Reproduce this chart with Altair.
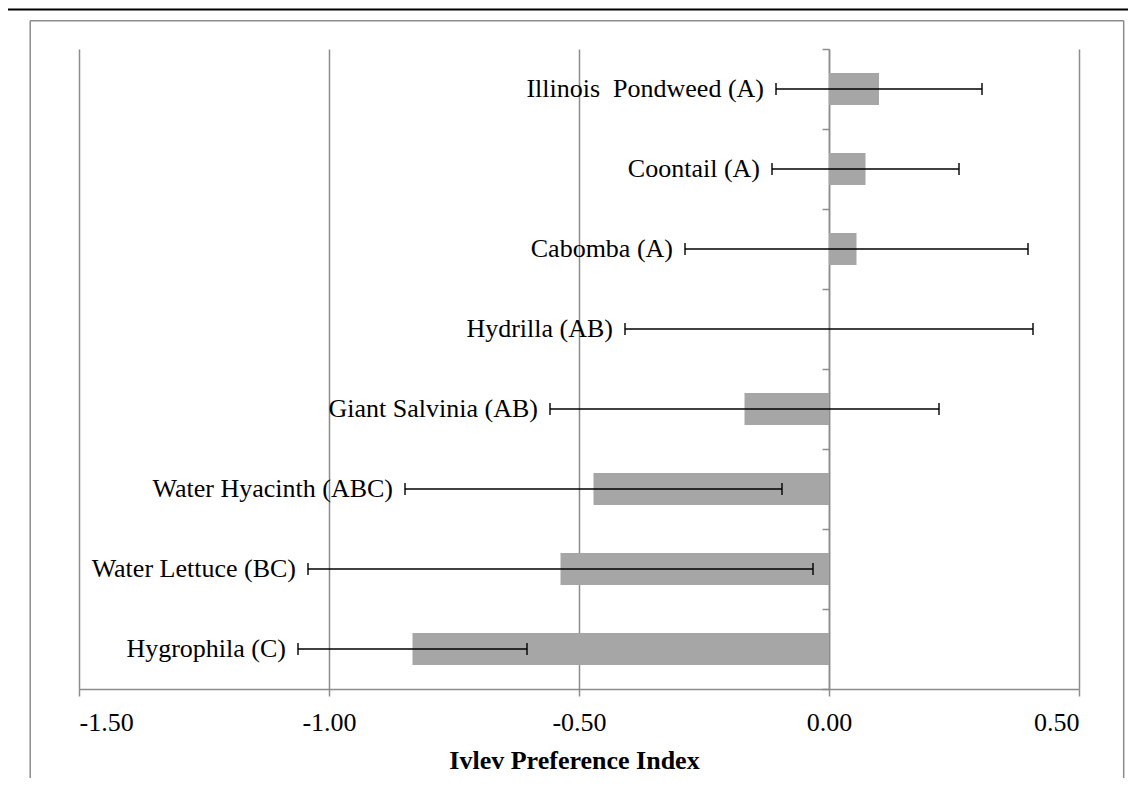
import altair as alt
import pandas as pd

# ---- data ----
species = [
    "Illinois\u00a0 Pondweed (A)",
    "Coontail (A)",
    "Cabomba (A)",
    "Hydrilla (AB)",
    "Giant Salvinia (AB)",
    "Water Hyacinth (ABC)",
    "Water Lettuce (BC)",
    "Hygrophila (C)",
]
ivlev = [0.100, 0.073, 0.055, 0.000, -0.169, -0.471, -0.537, -0.833]
err = [0.206, 0.187, 0.343, 0.408, 0.389, 0.377, 0.505, 0.229]
x_ticks = [-1.5, -1.0, -0.5, 0.0, 0.5]

df = pd.DataFrame({"species": species, "ivlev": ivlev, "err": err})
df["lo"] = df["ivlev"] - df["err"]
df["hi"] = df["ivlev"] + df["err"]

W, H = 1000, 640
PAD_L, PAD_T, SVG_W, SVG_H = 71, 41, 1120, 770
FONT = "Liberation Serif"
GREY = "#8c8c8c"

xscale = alt.Scale(domain=[x_ticks[0], x_ticks[-1]], nice=False, zero=False)
yscale = alt.Scale(paddingInner=0, paddingOuter=0)

x_axis = alt.Axis(
    values=x_ticks, format=".2f", labelExpr="replace(datum.label, '\u2212', '-')",
    title="Ivlev Preference Index",
    grid=True, gridColor=GREY, gridWidth=1.5,
    domainColor=GREY, domainWidth=1.5, tickColor=GREY, tickWidth=1.5, tickSize=7,
    labelFont=FONT, labelFontSize=26, labelColor="black", labelPadding=34,
    labelBaseline="alphabetic",
    titleFont=FONT, titleFontSize=26, titleFontWeight="bold", titleColor="black",
    titleBaseline="alphabetic", titleY=79, titleX=495, titleAlign="center",
)
zero_offset = -W * (0 - x_ticks[0]) / (x_ticks[-1] - x_ticks[0])
y_axis = alt.Axis(
    title=None, labels=False, grid=False, offset=zero_offset, tickBand="extent",
    tickSize=7, tickColor=GREY, tickWidth=1.5, domainColor=GREY, domainWidth=1.5,
)

def X(field):
    return alt.X(field, scale=xscale, axis=x_axis)

base = alt.Chart(df).encode(
    y=alt.Y("species:N", sort=species, scale=yscale, axis=y_axis)
)

bars = base.mark_bar(color="#a6a6a6", height={"band": 0.4}).encode(
    x=X("ivlev:Q"), x2=alt.datum(0))
whisk = base.mark_rule(color="black", strokeWidth=1.5).encode(x=X("lo:Q"), x2="hi:Q")
cap_lo = base.mark_tick(color="black", thickness=2, size=12, orient="vertical").encode(x=X("lo:Q"))
cap_hi = base.mark_tick(color="black", thickness=2, size=12, orient="vertical").encode(x=X("hi:Q"))
labels = base.mark_text(
    align="right", baseline="middle", dx=-12, font=FONT, fontSize=26, color="black"
).encode(x=X("lo:Q"), text="species:N")

# decorative page frames (outer black, inner grey)
one = pd.DataFrame({"k": [0]})
bottom = SVG_H - PAD_T
right = SVG_W - PAD_L
frame_black_left = alt.Chart(one).mark_rule(color="black", strokeWidth=2).encode(
    x=alt.value(-73.7), y=alt.value(-39.5), y2=alt.value(bottom))
frame_black_top = alt.Chart(one).mark_rule(color="black", strokeWidth=2).encode(
    x=alt.value(-73.7), x2=alt.value(right), y=alt.value(-39.5))
frame_grey_left = alt.Chart(one).mark_rule(color=GREY, strokeWidth=1.5).encode(
    x=alt.value(-48.8), y=alt.value(-28.2), y2=alt.value(bottom))
frame_grey_right = alt.Chart(one).mark_rule(color=GREY, strokeWidth=1.5).encode(
    x=alt.value(1044.7), y=alt.value(-28.2), y2=alt.value(bottom))
frame_grey_top = alt.Chart(one).mark_rule(color=GREY, strokeWidth=1.5).encode(
    x=alt.value(-48.8), x2=alt.value(1044.7), y=alt.value(-28.2))

chart = alt.layer(
    bars, whisk, cap_lo, cap_hi, labels,
    frame_black_left, frame_black_top, frame_grey_left, frame_grey_right, frame_grey_top,
).properties(
    width=W, height=H,
    padding={"left": PAD_L, "top": PAD_T, "right": SVG_W - PAD_L - W, "bottom": SVG_H - PAD_T - H},
    autosize=alt.AutoSizeParams(type="none"),
).configure_view(stroke=None)

chart.save("out.html", embed_options={"renderer": "svg", "actions": False})
